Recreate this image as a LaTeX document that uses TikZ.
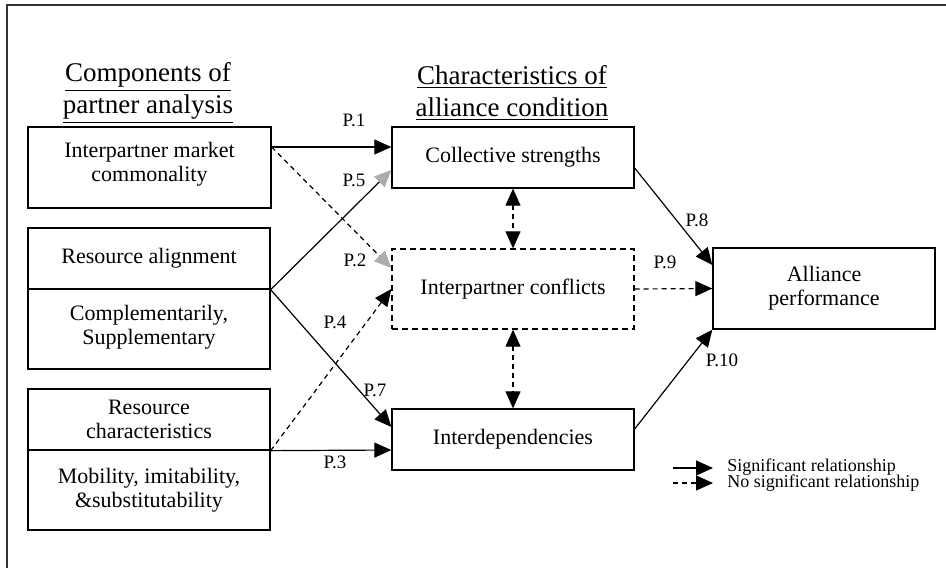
\documentclass[tikz,border=0pt]{standalone}
\usepackage{fontspec}
\setmainfont{Liberation Serif}
\usetikzlibrary{arrows.meta}
\begin{document}
\begin{tikzpicture}[x=0.5pt,y=-0.5pt,
        box/.style={draw, line width=0.65pt, inner sep=2pt, align=center, font=\fontsize{11}{12}\selectfont},
        head/.style={align=center, font=\fontsize{13.5}{16}\selectfont},
        plabel/.style={inner sep=1pt, font=\fontsize{9.5}{10}\selectfont},
        tip/.style={-{Triangle[length=8.5pt,width=7.5pt]}},
        rel/.style={line width=0.6pt, tip},
        nsrel/.style={rel, dash pattern=on 2.5pt off 2pt},
        grayhead/.style={-{Triangle[length=8.5pt,width=7.5pt,color=gray!65]}},
        both/.style={{Triangle[length=8.5pt,width=7.5pt]}-{Triangle[length=8.5pt,width=7.5pt]}}]
        \useasboundingbox (0,0) rectangle (946,568);
        \draw[line width=1pt, black!80] (7,568) -- (7,5) -- (946,5);

        \node(hpa) at (148,93) [head]{\underline{Components of}\\\underline{partner analysis}};
        \node(hac) at (512,93) [head]{\underline{Characteristics of}\\\underline{alliance condition}};

        \node(ipm) at (149.5,167.5) [box, minimum width=121.5pt, minimum height=40.5pt]{Interpartner market\\commonality\\[-6pt]};
        \node(ra) at (149,258.5) [box, minimum width=121pt, minimum height=30.5pt]{Resource alignment};
        \node(cmp) at (149,329) [box, minimum width=121pt, minimum height=40pt]{Complementarily,\\Supplementary\\[-8pt]};
        \node(rc) at (149,419.5) [box, minimum width=121pt, minimum height=30.5pt]{Resource\\characteristics};
        \node(mob) at (149,490) [box, minimum width=121pt, minimum height=40pt]{Mobility, imitability,\\\&substitutability};

        \node(coll) at (513,157.5) [box, minimum width=121pt, minimum height=30.5pt]{Collective strengths};
        \node(conf) at (513,289) [box, dash pattern=on 3pt off 2pt, minimum width=121pt, minimum height=40pt]{Interpartner conflicts};
        \node(dep) at (513,439.5) [box, minimum width=121pt, minimum height=30.5pt]{Interdependencies};
        \node(perf) at (824,288.5) [box, minimum width=111pt, minimum height=40.5pt]{Alliance\\performance};

        \draw[rel] (ipm.east |- 0,147) -- (coll.west |- 0,147);
        \draw[nsrel, grayhead] (ipm.east |- 0,147) -- (conf.west |- 0,268);
        \draw[rel, grayhead] (ra.south east) -- (coll.west |- 0,170);
        \draw[rel] (ra.south east) -- (dep.west |- 0,427);
        \draw[nsrel] (rc.south east) -- (conf.west);
        \draw[rel] (rc.south east) -- (dep.west |- 0,450);

        \draw[rel] (coll.east |- 0,168) -- (perf.west |- 0,265);
        \draw[nsrel] (conf.east) -- (perf.west);
        \draw[rel] (dep.east |- 0,429) -- (perf.south west);

        \draw[nsrel, both] (coll.south) -- (conf.north);
        \draw[nsrel, both] (conf.south) -- (dep.north);

        \node(p1) at (354,120) [plabel]{P.1};
        \node(p5) at (354,180) [plabel]{P.5};
        \node(p2) at (355,260) [plabel]{P.2};
        \node(p4) at (335,322) [plabel]{P.4};
        \node(p7) at (375,390) [plabel]{P.7};
        \node(p3) at (335,462) [plabel]{P.3};
        \node(p8) at (697,220) [plabel]{P.8};
        \node(p9) at (665,262) [plabel]{P.9};
        \node(p10) at (722,360) [plabel]{P.10};

        \coordinate(s0) at (673,468);
        \coordinate(s1) at (713,468);
        \coordinate(n0) at (673,483);
        \coordinate(n1) at (713,483);
        \draw[rel] (s0) -- (s1);
        \draw[nsrel] (n0) -- (n1);
        \node(sig) at (725,467) [plabel, anchor=west, font=\fontsize{9}{10}\selectfont]{Significant relationship};
        \node(nsig) at (725,483) [plabel, anchor=west, font=\fontsize{9}{10}\selectfont]{No significant relationship};
\end{tikzpicture}
\end{document}
